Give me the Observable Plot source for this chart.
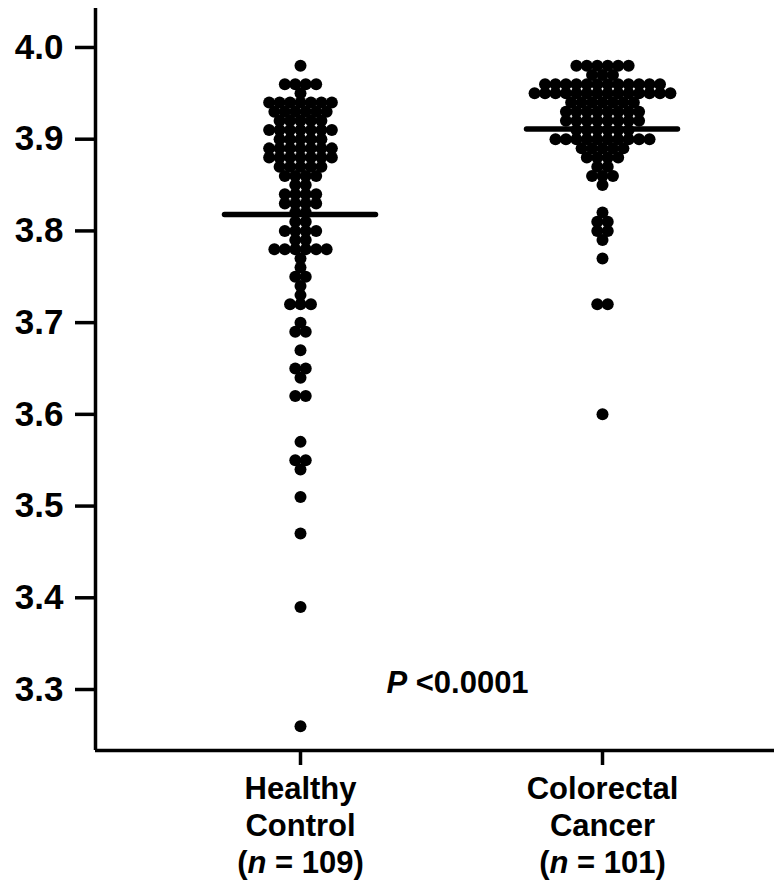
<!DOCTYPE html>
<html><head><meta charset="utf-8">
<script src="https://cdn.jsdelivr.net/npm/d3@7"></script>
<script src="https://cdn.jsdelivr.net/npm/@observablehq/plot@0.6"></script>
<style>
body{margin:0;background:#fff}
#chart svg{font-family:"Liberation Sans",Arial,sans-serif;font-weight:bold;background:#fff;overflow:visible}
</style>
</head><body><div id="chart"></div>
<script>
// ---- data ----
const groupNames = ["Healthy Control", "Colorectal Cancer"];
const groupLabels = ["Healthy\nControl\n(n = 109)", "Colorectal\nCancer\n(n = 101)"];
const healthyLevels = [3.98,3.96,3.95,3.94,3.93,3.92,3.91,3.90,3.89,3.88,3.87,3.86,3.85,3.84,3.83,3.82,3.81,3.80,3.79,3.78,3.77,3.76,3.75,3.74,3.73,3.72,3.70,3.69,3.67,3.65,3.64,3.62,3.57,3.55,3.54,3.51,3.47,3.39,3.26];
const healthyCounts = [1,4,1,7,6,5,7,5,7,7,5,4,2,4,4,2,2,4,2,6,1,1,2,1,1,3,1,2,1,2,1,2,1,2,1,1,1,1,1];
const cancerLevels = [3.98,3.97,3.96,3.95,3.94,3.93,3.92,3.91,3.90,3.89,3.88,3.87,3.86,3.85,3.82,3.81,3.80,3.79,3.77,3.72,3.60];
const cancerCounts = [6,3,12,14,7,8,8,6,10,5,4,2,3,1,1,2,2,1,1,2,1];
const groupMeans = [3.818, 3.911];
const yTicks = [3.3, 3.4, 3.5, 3.6, 3.7, 3.8, 3.9, 4.0];
const pLabel = "P <0.0001";

// ---- layout constants ----
const xDomain = [0.3212, 2.5695];
const yDomain = [3.2335, 4.0425];
const dotStep = 0.0346;     // horizontal step between stacked dots (x units)
const meanHalf = 0.25;      // half-length of mean bar (x units)

function stack(levels, counts, g) {
  const out = [];
  levels.forEach((v, i) => {
    const n = counts[i];
    for (let k = 0; k < n; k++) {
      out.push({group: g, value: v, x: (g + 1) + (k - (n - 1) / 2) * dotStep});
    }
  });
  return out;
}
const points = [...stack(healthyLevels, healthyCounts, 0), ...stack(cancerLevels, cancerCounts, 1)];
const meanRows = groupMeans.map((m, i) => ({pos: i + 1, mean: m}));

const chart = Plot.plot({
  width: 774,
  height: 892,
  marginLeft: 95,
  marginRight: 0,
  marginTop: 8,
  marginBottom: 142,
  style: {fontFamily: '"Liberation Sans", Arial, sans-serif', fontWeight: "bold", color: "#000", background: "#fff"},
  x: {type: "linear", domain: xDomain, axis: null},
  y: {domain: yDomain, axis: null},
  marks: [
    Plot.ruleX([xDomain[0]], {y1: yDomain[0], y2: yDomain[1], stroke: "#000", strokeWidth: 3.5}),
    Plot.ruleY([yDomain[0]], {stroke: "#000", strokeWidth: 3.5}),
    Plot.axisY({ticks: yTicks, tickSize: 20, tickPadding: 12, tickFormat: d3.format(".1f"), fontSize: 35, fontWeight: "bold", strokeWidth: 3.5, label: null, anchor: "left"}),
    Plot.axisX({ticks: [1, 2], tickSize: 15, tickPadding: 7, tickFormat: d => groupLabels[d - 1], fontSize: 31, fontWeight: "bold", lineHeight: 1.2, strokeWidth: 3.5, label: null, anchor: "bottom"}),
    Plot.dot(points, {x: "x", y: "value", r: 6, fill: "#000", stroke: "none"}),
    Plot.ruleY(meanRows, {y: "mean", x1: d => d.pos - meanHalf, x2: d => d.pos + meanHalf, stroke: "#000", strokeWidth: 5.5, strokeLinecap: "round"}),
    Plot.text([pLabel], {x: 1.5, y: 3.3, dx: 6, dy: -6, text: d => d, fontSize: 31, fontWeight: "bold", fill: "#000"})
  ]
});
document.getElementById("chart").appendChild(chart);

// italic statistical symbols (n and P)
chart.querySelectorAll("tspan, text").forEach(el => {
  if (el.children.length) return;
  const t = el.textContent;
  const m = t.match(/^\((n)( = .*)$/);
  if (m) {
    el.textContent = "";
    el.append("(");
    const it = document.createElementNS("http://www.w3.org/2000/svg", "tspan");
    it.setAttribute("font-style", "italic");
    it.textContent = "n";
    el.append(it);
    el.append(m[2]);
  } else if (t === pLabel) {
    el.textContent = "";
    const it = document.createElementNS("http://www.w3.org/2000/svg", "tspan");
    it.setAttribute("font-style", "italic");
    it.textContent = "P";
    el.append(it);
    el.append(" <0.0001");
  }
});
</script>
</body></html>
